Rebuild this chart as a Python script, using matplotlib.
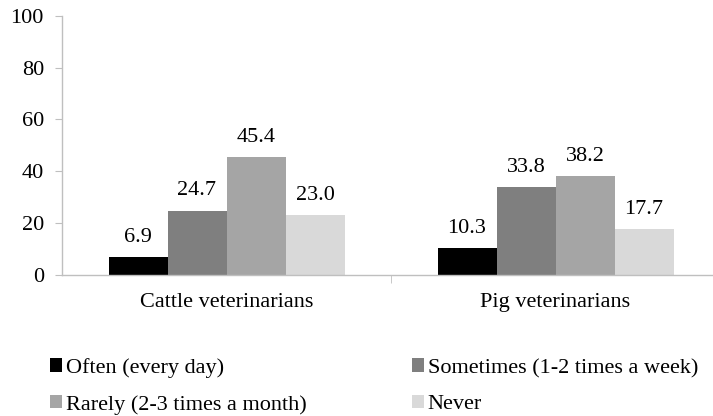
import matplotlib
matplotlib.use("Agg")
import matplotlib.pyplot as plt
import numpy as np

groups = ["Cattle veterinarians", "Pig veterinarians"]
series = ["Often (every day)", "Sometimes (1-2 times a week)",
          "Rarely (2-3 times a month)", "Never"]
often = [6.9, 10.3]
sometimes = [24.7, 33.8]
rarely = [45.4, 38.2]
never = [23.0, 17.7]
values = [often, sometimes, rarely, never]
colors = ["#000000", "#7f7f7f", "#a5a5a5", "#d9d9d9"]
yticks = [0, 20, 40, 60, 80, 100]

plt.rcParams["font.family"] = ["Liberation Serif", "DejaVu Serif"]
FS = 16

W, H = 713, 416
fig = plt.figure(figsize=(W / 100, H / 100), dpi=100)
left, right, bottom, top = 62, 720, 416 - 274.7, 416 - 16
ax = fig.add_axes([left / W, bottom / H, (right - left) / W, (top - bottom) / H])

x = np.arange(len(groups))
bw = 59 / (right - left) * 2
handles = []
for i, (vals, c, name) in enumerate(zip(values, colors, series)):
    pos = x + (i - 1.5) * bw
    b = ax.bar(pos, vals, width=bw, color=c, label=name, zorder=2)
    handles.append(b)
    for px, v in zip(pos, vals):
        ax.text(px, v + 4, f"{v:.1f}", ha="center", va="bottom", fontsize=FS)

ax.set_xlim(-0.5, 1.5)
ax.set_ylim(0, 100)
ax.set_yticks(yticks)
ax.set_yticklabels([str(t) for t in yticks], fontsize=FS)
ax.tick_params(axis="y", length=5, color="#bfbfbf", pad=8)

ax.set_xticks(x)
ax.set_xticklabels(groups, fontsize=FS)
ax.tick_params(axis="x", length=0, pad=13)
ax.set_xticks([0.5], minor=True)
ax.tick_params(axis="x", which="minor", length=6, color="#bfbfbf")

for s in ["top", "right"]:
    ax.spines[s].set_visible(False)
for s in ["left", "bottom"]:
    ax.spines[s].set_color("#bfbfbf")
    ax.spines[s].set_linewidth(1.0)

# two-column legend filled row by row
order = [0, 2, 1, 3]
fig.legend(handles=[handles[k] for k in order], labels=[series[k] for k in order],
           ncol=2, loc="upper left",
           bbox_to_anchor=(39 / W, 1 - 347 / H), frameon=False, fontsize=FS,
           handlelength=0.55, handleheight=0.55, handletextpad=0.15,
           columnspacing=4.76, labelspacing=0.76, borderpad=0)

fig.savefig("out.png", dpi=100)
